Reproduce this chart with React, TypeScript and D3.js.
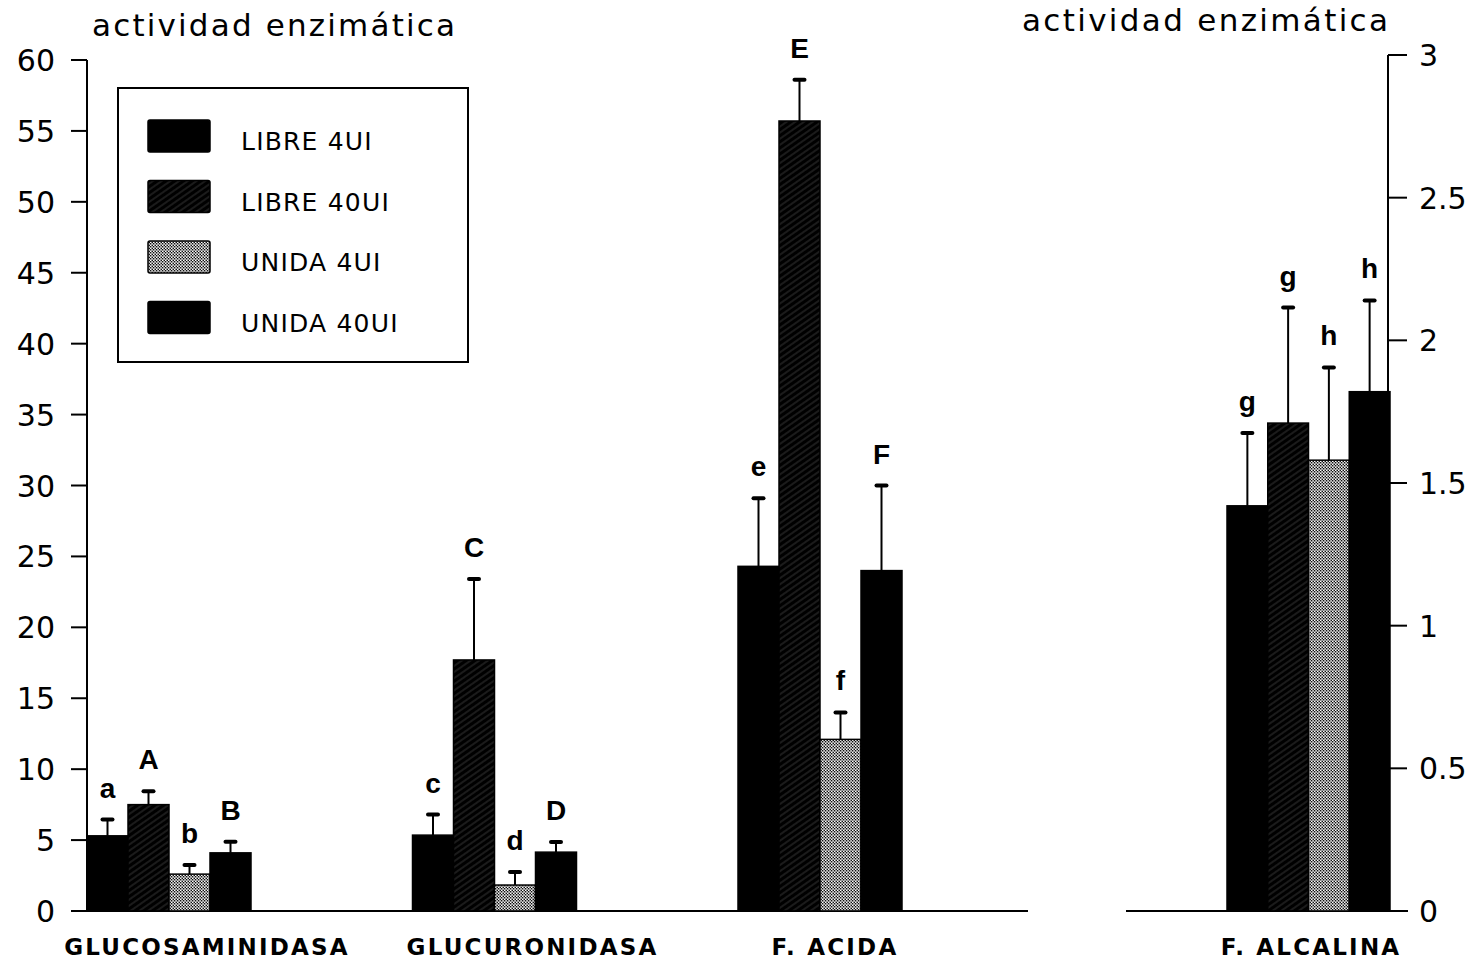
import React from "react";
import * as d3 from "d3";

// ---- data ----
const categoriesLeft = ["GLUCOSAMINIDASA", "GLUCURONIDASA", "F. ACIDA"];
const categoryRight = "F. ALCALINA";
const series = ["LIBRE 4UI", "LIBRE 40UI", "UNIDA 4UI", "UNIDA 40UI"];

// values: first three on the left axis (0-60), last one on the right axis (0-3)
const libre4 = [5.3, 5.35, 24.3, 1.42];
const libre40 = [7.5, 17.7, 55.7, 1.71];
const unida4 = [2.6, 1.83, 12.1, 1.58];
const unida40 = [4.1, 4.15, 24.0, 1.82];

const libre4Err = [1.15, 1.45, 4.8, 0.255];
const libre40Err = [0.95, 5.7, 2.9, 0.405];
const unida4Err = [0.65, 0.92, 1.9, 0.325];
const unida40Err = [0.78, 0.72, 6.0, 0.32];

const libre4Letters = ["a", "c", "e", "g"];
const libre40Letters = ["A", "C", "E", "g"];
const unida4Letters = ["b", "d", "f", "h"];
const unida40Letters = ["B", "D", "F", "h"];

const leftTicks = [0, 5, 10, 15, 20, 25, 30, 35, 40, 45, 50, 55, 60];
const rightTicks = [0, 0.5, 1, 1.5, 2, 2.5, 3];
const yTitle = "actividad enzimática";

const seriesValues = [libre4, libre40, unida4, unida40];
const seriesErrs = [libre4Err, libre40Err, unida4Err, unida40Err];
const seriesLetters = [libre4Letters, libre40Letters, unida4Letters, unida40Letters];
const seriesFill = ["#000", "url(#hatch)", "url(#dots)", "#000"];

export default function App() {
  const W = 1479;
  const H = 961;
  const y0 = 911;
  const yL = d3.scaleLinear().domain([0, 60]).range([y0, 60]);
  const yR = d3.scaleLinear().domain([0, 3]).range([y0, 55]);
  const xG = d3.scaleBand<string>().domain(categoriesLeft).range([87, 87 + 3 * 325.5]).padding(0);
  const xS = d3.scaleBand<string>().domain(series).range([0, 164]).padding(0);
  const xR = d3.scaleBand<string>().domain(series).range([1227, 1390]).padding(0);

  const numFont = "'DejaVu Sans', sans-serif";
  const labelOffsets = [38, 38, 15];

  const bars: React.ReactNode[] = [];
  const allCats = [...categoriesLeft, categoryRight];
  allCats.forEach((cat, ci) => {
    const isRight = ci === 3;
    const y = isRight ? yR : yL;
    series.forEach((s, si) => {
      const v = seriesValues[si][ci];
      const e = seriesErrs[si][ci];
      const x = isRight ? (xR(s) as number) : (xG(cat) as number) + (xS(s) as number);
      const w = isRight ? xR.bandwidth() : xS.bandwidth();
      const cx = x + w / 2;
      const top = y(v);
      const errTop = y(v + e);
      bars.push(
        <g key={cat + s}>
          <line x1={cx} x2={cx} y1={top} y2={errTop} stroke="#000" strokeWidth={2} />
          <line x1={cx - 5} x2={cx + 5} y1={errTop} y2={errTop} stroke="#000" strokeWidth={4} strokeLinecap="round" />
          <rect x={x} y={top} width={w} height={y0 - top} fill={seriesFill[si]} stroke="#000" strokeWidth={1.5} />
          <text
            x={cx}
            y={errTop - 22}
            textAnchor="middle"
            fontFamily="'Liberation Sans', Arial, sans-serif"
            fontWeight="bold"
            fontSize={28}
          >
            {seriesLetters[si][ci]}
          </text>
        </g>
      );
    });
  });

  return (
    <svg
      width={W}
      height={H}
      viewBox={`0 0 ${W} ${H}`}
      style={{ position: "absolute", left: 0, top: 0, background: "#fff" }}
    >
      <defs>
        <pattern id="hatch" patternUnits="userSpaceOnUse" width={5} height={5} patternTransform="rotate(-35)">
          <rect width={5} height={5} fill="#000" />
          <line x1={0} y1={1} x2={5} y2={1} stroke="#fff" strokeWidth={0.6} strokeOpacity={0.35} />
        </pattern>
        <pattern id="dots" patternUnits="userSpaceOnUse" width={3} height={3}>
          <rect width={3} height={3} fill="#fff" />
          <rect x={0} y={0} width={1.5} height={1.5} fill="#111" />
          <rect x={1.5} y={1.5} width={1.5} height={1.5} fill="#111" />
          <rect x={1.5} y={0} width={1.5} height={1.5} fill="#bbb" />
        </pattern>
      </defs>

      {/* titles */}
      <text x={92} y={36} fontFamily={numFont} fontSize={31} textLength={363} lengthAdjust="spacing">
        {yTitle}
      </text>
      <text x={1022} y={31} fontFamily={numFont} fontSize={31} textLength={366} lengthAdjust="spacing">
        {yTitle}
      </text>

      {/* left axis */}
      <line x1={87} x2={87} y1={yL(60)} y2={y0} stroke="#000" strokeWidth={2} />
      {leftTicks.map((t) => (
        <g key={"l" + t}>
          <line x1={71} x2={87} y1={yL(t)} y2={yL(t)} stroke="#000" strokeWidth={2} />
          <text x={55} y={yL(t) + 11} textAnchor="end" fontFamily={numFont} fontSize={30}>
            {String(t)}
          </text>
        </g>
      ))}
      <line x1={71} x2={1028} y1={y0} y2={y0} stroke="#000" strokeWidth={2} />

      {/* right axis */}
      <line x1={1388} x2={1388} y1={yR(3)} y2={y0} stroke="#000" strokeWidth={2} />
      {rightTicks.map((t) => (
        <g key={"r" + t}>
          <line x1={1388} x2={1407} y1={yR(t)} y2={yR(t)} stroke="#000" strokeWidth={2} />
          <text x={1419} y={yR(t) + 11} textAnchor="start" fontFamily={numFont} fontSize={30}>
            {String(t)}
          </text>
        </g>
      ))}
      <line x1={1126} x2={1408} y1={y0} y2={y0} stroke="#000" strokeWidth={2} />

      {bars}

      {/* category labels */}
      {categoriesLeft.map((c, i) => (
        <text
          key={c}
          x={(xG(c) as number) + 82 + labelOffsets[i]}
          y={955}
          textAnchor="middle"
          fontFamily="'DejaVu Sans', sans-serif"
          fontWeight="bold"
          fontSize={23}
          letterSpacing={2.2}
        >
          {c}
        </text>
      ))}
      <text
        x={1311}
        y={955}
        textAnchor="middle"
        fontFamily="'DejaVu Sans', sans-serif"
        fontWeight="bold"
        fontSize={23}
        letterSpacing={2.2}
      >
        {categoryRight}
      </text>

      {/* legend */}
      <rect x={118} y={88} width={350} height={274} fill="#fff" stroke="#000" strokeWidth={2} />
      {series.map((s, i) => (
        <g key={"lg" + s}>
          <rect
            x={148}
            y={120 + i * 60.5}
            width={62}
            height={32}
            rx={2}
            fill={seriesFill[i]}
            stroke="#000"
            strokeWidth={1.5}
          />
          <text x={241} y={150 + i * 60.5} fontFamily={numFont} fontSize={25} letterSpacing={1.2}>
            {s.replace(" ", "  ")}
          </text>
        </g>
      ))}
    </svg>
  );
}
